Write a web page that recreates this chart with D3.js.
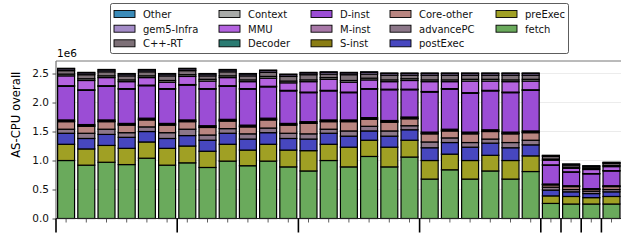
<!DOCTYPE html>
<html>
<head>
<meta charset="utf-8">
<script src="https://cdn.jsdelivr.net/npm/d3@7"></script>
<style>
  body { margin: 0; background: #fff; }
  svg text { font-family: "DejaVu Sans", sans-serif; }
</style>
</head>
<body>
<svg id="chart" width="621" height="240"></svg>
<script>
// stack order, bottom to top
const seriesNames = ["fetch", "preExec", "postExec", "advancePC", "Core-other", "S-inst", "M-inst",
  "D-inst", "Decoder", "MMU", "Context", "C++-RT", "gem5-Infra", "Other"];

const colors = {
  "Other": "#3b8bb8", "gem5-Infra": "#a48cc8", "C++-RT": "#7d7077", "Context": "#a9aba9",
  "MMU": "#b463e0", "Decoder": "#2a7b72", "D-inst": "#9b4dd5", "M-inst": "#a878a8",
  "S-inst": "#8a7d14", "Core-other": "#b98580", "advancePC": "#8c7789", "postExec": "#4747bf",
  "preExec": "#a0a024", "fetch": "#6aaa5c"
};

// legend order (column-major, 3 rows)
const legendNames = ["Other", "gem5-Infra", "C++-RT", "Context", "MMU", "Decoder", "D-inst",
  "M-inst", "S-inst", "Core-other", "advancePC", "postExec", "preExec", "fetch"];

// values in units of 1e6, one per bar (28 bars)
const fetch = [1.00, 0.92, 0.97, 0.93, 1.04, 0.92, 0.96, 0.88, 0.99, 0.91, 0.99, 0.89, 0.82, 1.00,
  0.89, 1.07, 0.89, 1.06, 0.68, 0.84, 0.68, 0.82, 0.68, 0.81, 0.26, 0.25, 0.25, 0.25];
const preExec = [0.28, 0.28, 0.29, 0.28, 0.28, 0.29, 0.29, 0.28, 0.29, 0.27, 0.29, 0.29, 0.35, 0.28,
  0.34, 0.28, 0.34, 0.29, 0.32, 0.27, 0.32, 0.27, 0.32, 0.27, 0.13, 0.13, 0.11, 0.13];
const postExec = [0.19, 0.18, 0.19, 0.19, 0.18, 0.17, 0.18, 0.19, 0.19, 0.19, 0.20, 0.20, 0.20, 0.19,
  0.19, 0.16, 0.19, 0.18, 0.22, 0.20, 0.23, 0.21, 0.22, 0.19, 0.10, 0.08, 0.07, 0.08];
const advancePC = [0.07, 0.09, 0.09, 0.08, 0.08, 0.10, 0.11, 0.09, 0.08, 0.09, 0.08, 0.09, 0.09, 0.07,
  0.09, 0.08, 0.09, 0.07, 0.10, 0.08, 0.08, 0.07, 0.09, 0.08, 0.05, 0.04, 0.04, 0.04];
const coreOther = [0.13, 0.12, 0.13, 0.13, 0.12, 0.13, 0.13, 0.13, 0.13, 0.12, 0.14, 0.14, 0.18, 0.13,
  0.16, 0.12, 0.15, 0.12, 0.14, 0.12, 0.15, 0.13, 0.15, 0.13, 0.04, 0.05, 0.03, 0.05];
const sInst = [0.01, 0.01, 0.01, 0.01, 0.01, 0.01, 0.01, 0.01, 0.01, 0.01, 0.01, 0.01, 0.01, 0.01,
  0.01, 0.01, 0.01, 0.01, 0.01, 0.01, 0.01, 0.01, 0.01, 0.01, 0.005, 0.005, 0.005, 0.005];
const mInst = [0.02, 0.02, 0.02, 0.02, 0.02, 0.02, 0.02, 0.02, 0.02, 0.02, 0.02, 0.02, 0.02, 0.02,
  0.02, 0.02, 0.02, 0.02, 0.02, 0.02, 0.02, 0.02, 0.02, 0.02, 0.01, 0.01, 0.01, 0.01];
const dInst = [0.58, 0.59, 0.58, 0.59, 0.56, 0.59, 0.60, 0.63, 0.57, 0.62, 0.54, 0.56, 0.50, 0.50,
  0.47, 0.49, 0.53, 0.47, 0.69, 0.69, 0.67, 0.67, 0.68, 0.70, 0.325, 0.235, 0.255, 0.255];
const decoder = [0.01, 0.01, 0.01, 0.01, 0.01, 0.01, 0.01, 0.01, 0.01, 0.01, 0.01, 0.01, 0.01, 0.01,
  0.01, 0.01, 0.01, 0.01, 0.01, 0.01, 0.01, 0.01, 0.01, 0.01, 0.005, 0.005, 0.005, 0.005];
const mmu = [0.17, 0.16, 0.14, 0.12, 0.13, 0.11, 0.14, 0.13, 0.14, 0.12, 0.14, 0.13, 0.18, 0.19,
  0.17, 0.15, 0.13, 0.15, 0.17, 0.12, 0.20, 0.16, 0.18, 0.15, 0.08, 0.06, 0.07, 0.07];
const context = [0.03, 0.03, 0.03, 0.03, 0.03, 0.03, 0.03, 0.03, 0.03, 0.03, 0.03, 0.03, 0.03, 0.03,
  0.03, 0.03, 0.03, 0.03, 0.03, 0.03, 0.03, 0.03, 0.03, 0.03, 0.02, 0.02, 0.02, 0.02];
const cppRt = [0.06, 0.07, 0.07, 0.07, 0.07, 0.08, 0.07, 0.06, 0.07, 0.07, 0.07, 0.08, 0.09, 0.06,
  0.10, 0.07, 0.08, 0.06, 0.08, 0.08, 0.07, 0.07, 0.08, 0.07, 0.045, 0.035, 0.025, 0.035];
const gem5Infra = [0.03, 0.03, 0.03, 0.03, 0.03, 0.03, 0.03, 0.03, 0.03, 0.03, 0.03, 0.03, 0.03, 0.03,
  0.03, 0.03, 0.03, 0.03, 0.03, 0.03, 0.03, 0.03, 0.03, 0.03, 0.015, 0.015, 0.015, 0.015];
const other = [0.01, 0.01, 0.01, 0.01, 0.01, 0.01, 0.01, 0.01, 0.01, 0.01, 0.01, 0.01, 0.01, 0.01,
  0.01, 0.01, 0.01, 0.01, 0.01, 0.01, 0.01, 0.01, 0.01, 0.01, 0.005, 0.005, 0.005, 0.005];

// bar indices where a new group starts (long ticks)
const groupStarts = [0, 6, 12, 18, 24, 25, 26, 27];
const yTicks = [0, 0.5, 1.0, 1.5, 2.0, 2.5];

const seriesValues = [fetch, preExec, postExec, advancePC, coreOther, sInst, mInst,
  dInst, decoder, mmu, context, cppRt, gem5Infra, other];

const table = fetch.map((_, i) => {
  const row = { idx: i };
  seriesNames.forEach((name, k) => { row[name] = seriesValues[k][i]; });
  return row;
});

const svg = d3.select("#chart");
const plotLeft = 56, plotTop = 61, plotRight = 621.6, plotBottom = 218.5;

const x = d3.scaleBand()
  .domain(d3.range(fetch.length))
  .range([plotLeft, plotRight])
  .paddingInner(0.16)
  .paddingOuter(0.08);

const y = d3.scaleLinear()
  .domain([0, 2.716])
  .range([plotBottom, plotTop]);

// grid
svg.append("g")
  .selectAll("line")
  .data(yTicks)
  .join("line")
  .attr("x1", plotLeft).attr("x2", 621)
  .attr("y1", d => y(d)).attr("y2", d => y(d))
  .attr("stroke", "#e6e6e6")
  .attr("stroke-width", 0.8);

// bars
const stack = d3.stack().keys(seriesNames)(table);

svg.append("g")
  .selectAll("g")
  .data(stack)
  .join("g")
  .attr("fill", d => colors[d.key])
  .selectAll("rect")
  .data(d => d)
  .join("rect")
  .attr("x", d => x(d.data.idx))
  .attr("width", x.bandwidth())
  .attr("y", d => y(d[1]))
  .attr("height", d => y(d[0]) - y(d[1]))
  .attr("stroke", "#000")
  .attr("stroke-width", 1.2);

// y axis
const yAxis = d3.axisLeft(y)
  .tickValues(yTicks)
  .tickFormat(d3.format(".1f"))
  .tickSize(3.5)
  .tickPadding(3.5);

const gy = svg.append("g")
  .attr("transform", `translate(${plotLeft},0)`)
  .call(yAxis);
gy.select(".domain").remove();
gy.selectAll("line").attr("stroke", "#222").attr("stroke-width", 0.8);
gy.selectAll("text")
  .attr("font-size", 10.5)
  .attr("fill", "#111");

// spines
svg.append("line")
  .attr("x1", plotLeft).attr("x2", plotLeft)
  .attr("y1", plotTop).attr("y2", plotBottom)
  .attr("stroke", "#555").attr("stroke-width", 1);
svg.append("line")
  .attr("x1", plotLeft).attr("x2", 621)
  .attr("y1", plotTop).attr("y2", plotTop)
  .attr("stroke", "#777").attr("stroke-width", 1);
svg.append("line")
  .attr("x1", plotLeft).attr("x2", 621)
  .attr("y1", plotBottom).attr("y2", plotBottom)
  .attr("stroke", "#222").attr("stroke-width", 1);

// x ticks: short ticks at bar centres
const xAxis = d3.axisBottom(x).tickSize(4).tickFormat("");
const gx = svg.append("g")
  .attr("transform", `translate(0,${plotBottom})`)
  .call(xAxis);
gx.select(".domain").remove();
gx.selectAll("line").attr("stroke", "#333").attr("stroke-width", 0.8);

// long ticks between groups
const gap = (x.step() - x.bandwidth()) / 2;
svg.append("g")
  .selectAll("line")
  .data(groupStarts)
  .join("line")
  .attr("x1", d => x(d) - gap).attr("x2", d => x(d) - gap)
  .attr("y1", plotBottom).attr("y2", plotBottom + 14)
  .attr("stroke", "#000")
  .attr("stroke-width", 1.6);

// offset text
svg.append("text")
  .attr("x", plotLeft + 1).attr("y", 57)
  .attr("font-size", 10.5)
  .text("1e6");

// y label
svg.append("text")
  .attr("transform", `translate(19.5,${(plotTop + plotBottom) / 2 - 25}) rotate(-90)`)
  .attr("text-anchor", "middle")
  .attr("font-size", 11.6)
  .text("AS-CPU overall");

// legend
const legend = svg.append("g");
legend.append("rect")
  .attr("x", 110.5).attr("y", 3.5)
  .attr("width", 458).attr("height", 50)
  .attr("rx", 2)
  .attr("fill", "#fff")
  .attr("stroke", "#333")
  .attr("stroke-width", 0.8);

const colX = [114, 219, 311, 390, 496];
const rowY = [14, 28.7, 43.3];

const items = legend.selectAll("g.item")
  .data(legendNames)
  .join("g")
  .attr("class", "item")
  .attr("transform", (d, i) => `translate(${colX[Math.floor(i / 3)]},${rowY[i % 3]})`);

items.append("rect")
  .attr("x", 0).attr("y", -3.5)
  .attr("width", 21).attr("height", 7)
  .attr("fill", d => colors[d])
  .attr("stroke", "#000")
  .attr("stroke-width", 0.9);

items.append("text")
  .attr("x", 29).attr("y", 3.8)
  .attr("font-size", 10)
  .attr("fill", "#111")
  .text(d => d);
</script>
</body>
</html>
